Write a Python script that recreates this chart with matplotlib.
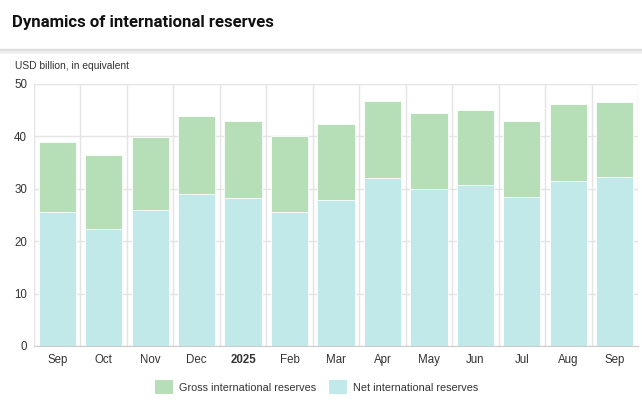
import matplotlib
matplotlib.use('Agg')
import matplotlib.pyplot as plt
import numpy as np
from matplotlib.patches import Patch
from matplotlib.lines import Line2D

months = ['Sep', 'Oct', 'Nov', 'Dec', '2025', 'Feb', 'Mar', 'Apr', 'May', 'Jun', 'Jul', 'Aug', 'Sep']
gross = [38.9, 36.5, 39.9, 43.8, 43.0, 40.1, 42.4, 46.7, 44.5, 45.0, 43.0, 46.1, 46.6]
net = [25.5, 22.4, 25.9, 29.1, 28.3, 25.6, 27.9, 32.1, 30.0, 30.7, 28.4, 31.5, 32.2]

GREEN = '#b6dfb7'
CYAN = '#c2e9e9'
GRID = '#e4e4e4'
TEXT = '#333333'

plt.rcParams['font.family'] = ['Liberation Sans', 'DejaVu Sans']

fig = plt.figure(figsize=(6.42, 4.07), dpi=100)
ax = fig.add_axes([34 / 642, 1 - 346 / 407, 604 / 642, 262 / 407])

x = np.arange(len(months))
ax.bar(x, gross, width=0.8, color=GREEN, edgecolor='white', linewidth=0.6, zorder=2)
ax.bar(x, net, width=0.8, color=CYAN, edgecolor='white', linewidth=0.6, zorder=3)

ax.set_xlim(-0.5, len(months) - 0.5)
ax.set_ylim(0, 50)
ax.set_yticks([0, 10, 20, 30, 40, 50])
ax.set_xticks(x)
ax.set_xticklabels(months)
for lbl in ax.get_xticklabels():
    if lbl.get_text() == '2025':
        lbl.set_fontweight('bold')

# grid: horizontal at ticks, vertical at category boundaries
ax.set_xticks(np.arange(-0.5, len(months), 1), minor=True)
ax.grid(axis='y', which='major', color=GRID, linewidth=1, zorder=0)
ax.grid(axis='x', which='minor', color=GRID, linewidth=1, zorder=0)
ax.grid(axis='x', which='major', visible=False)
ax.set_axisbelow(True)

for side in ['top', 'right', 'left']:
    ax.spines[side].set_visible(False)
ax.spines['bottom'].set_color('#cccccc')
ax.spines['bottom'].set_zorder(4)
ax.tick_params(axis='both', which='both', length=0, labelsize=8.3, colors=TEXT)
ax.tick_params(axis='x', pad=6)
ax.tick_params(axis='y', pad=5)

# header
fig.text(12 / 642, 1 - 22 / 407, 'Dynamics of international reserves', fontsize=12.1,
         fontweight='bold', family=['Roboto', 'DejaVu Sans'], color='#111111',
         ha='left', va='center')
fig.add_artist(Line2D([0, 1], [1 - 50 / 407, 1 - 50 / 407], color='#dddddd', linewidth=2.5))
fig.add_artist(Line2D([0, 1], [1 - 52 / 407, 1 - 52 / 407], color='#f0f0f0', linewidth=2))
fig.text(15 / 642, 1 - 66 / 407, 'USD billion, in equivalent', fontsize=7.4, color=TEXT,
         ha='left', va='center')

handles = [Patch(facecolor=GREEN, label='Gross international reserves'),
           Patch(facecolor=CYAN, label='Net international reserves')]
fig.legend(handles=handles, loc='center', bbox_to_anchor=(317 / 642, 1 - 387 / 407), ncol=2,
           frameon=False, fontsize=7.8, handlelength=1.6, handleheight=1.6,
           columnspacing=1.2, handletextpad=0.6, labelcolor=TEXT)

fig.savefig('out.png', dpi=100, facecolor='white')
